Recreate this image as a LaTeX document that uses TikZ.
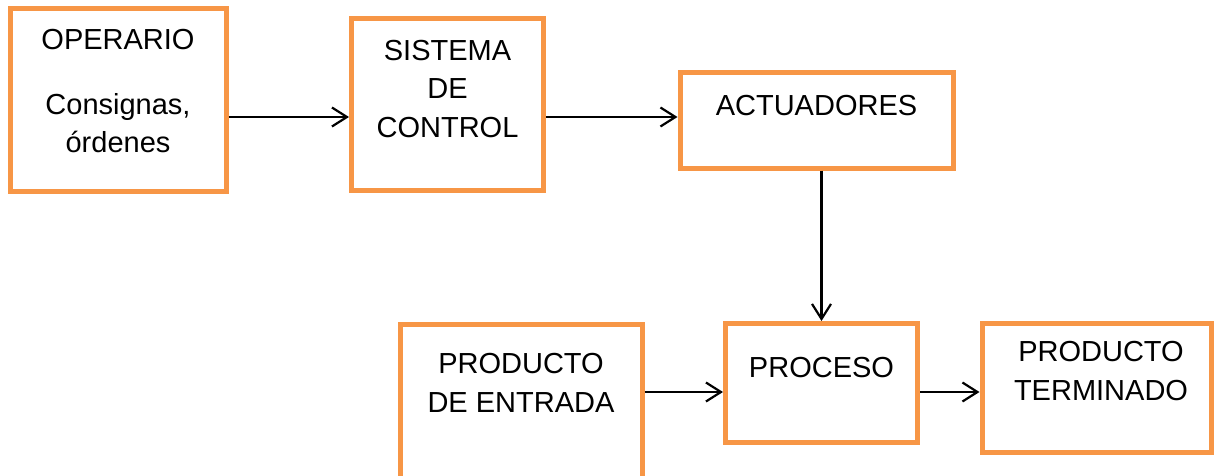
\documentclass[tikz,border=0pt]{standalone}
\usepackage{fontspec}
\setmainfont{Liberation Sans}
\usetikzlibrary{positioning,arrows.meta,calc}
\definecolor{boxorange}{HTML}{F79646}
\colorlet{framecolor}{boxorange}

\begin{document}
\begin{tikzpicture}[x=1pt,y=1pt]

    \tikzstyle{blk}=[draw=framecolor, line width=5pt, rectangle, fill=white]
    \tikzstyle{txt}=[inner sep=0pt, align=center, font=\fontsize{29}{38.5}\selectfont]
    \tikzstyle{flow}=[line width=2.2pt, ->]

    \useasboundingbox (0,0) rectangle (1217,475);

    \begin{scope}[>={Straight Barb[length=15pt,width=19pt]}]

      \node (operario) at (118,375)[blk, minimum width=216pt, minimum height=182pt]{};
      \node (sistema) at (447.5,370.5)[blk, minimum width=192pt, minimum height=172pt]{};
      \node (actuadores) at (816.5,354.5)[blk, minimum width=273pt, minimum height=95pt]{};
      \node (proceso) at (821.5,92)[blk, minimum width=192pt, minimum height=119pt]{};
      \node (entrada) at (521,63)[blk, minimum width=242pt, minimum height=176pt]{};
      \node (terminado) at (1096.5,87)[blk, minimum width=229pt, minimum height=129.5pt]{};

      \node (operarioTxt)[txt, below=22.5pt of operario.north]{OPERARIO\\[26.5pt]Consignas,\\órdenes};
      \node (sistemaTxt)[txt, below=24pt of sistema.north]{SISTEMA\\DE\\CONTROL};
      \node (actuadoresTxt)[txt, below=24.5pt of actuadores.north]{ACTUADORES};
      \node (procesoTxt)[txt, below=36.5pt of proceso.north]{PROCESO};
      \node (entradaTxt)[txt, below=32pt of entrada.north]{PRODUCTO\\DE ENTRADA};
      \node (terminadoTxt)[txt, below=20.5pt of terminado.north, xshift=4.5pt]{PRODUCTO\\TERMINADO};

      \draw[flow] ([yshift=-17pt]operario.east) -- ([yshift=-12.5pt]sistema.west);
      \draw[flow] ([yshift=-12.5pt]sistema.east) -- ([yshift=3.5pt]actuadores.west);
      \draw[flow] (actuadores.south -| proceso.north) -- (proceso.north);
      \draw[flow] ([yshift=20pt]entrada.east) -- ([yshift=-9pt]proceso.west);
      \draw[flow] ([yshift=-9pt]proceso.east) -- ([yshift=-4pt]terminado.west);

    \end{scope}
\end{tikzpicture}
\end{document}
